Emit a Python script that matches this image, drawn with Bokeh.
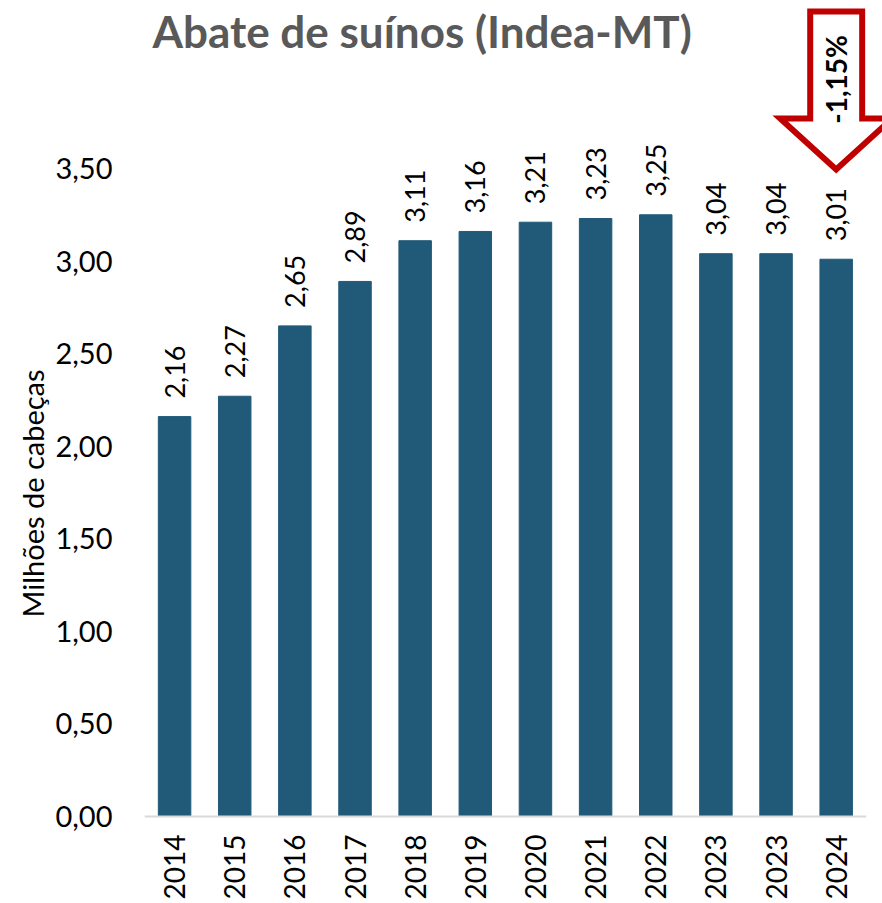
import math
from bokeh.plotting import figure
from bokeh.models import ColumnDataSource, Range1d, FixedTicker, CustomJSTickFormatter, Label, Title
from bokeh.core.properties import value
from bokeh.embed import file_html
from bokeh.resources import INLINE

# ---- data ----
years = ["2014", "2015", "2016", "2017", "2018", "2019", "2020", "2021", "2022", "2023", "2023", "2024"]
values = [2.16, 2.27, 2.65, 2.89, 3.11, 3.16, 3.21, 3.23, 3.25, 3.04, 3.04, 3.01]
y_ticks = [0.0, 0.5, 1.0, 1.5, 2.0, 2.5, 3.0, 3.5]
title_text = "Abate de suínos (Indea-MT)"
y_label = "Milhões de cabeças"
change_text = "-1,15%"

BAR = "#215A78"
FONT = "Lato"

idx = list(range(len(years)))
labels = [f"{v:.2f}".replace(".", ",") for v in values]
src = ColumnDataSource(dict(x=idx, top=values, label=labels, year=years, zero=[0] * len(idx)))

W, H = 882, 903
LEFT = 144
p = figure(width=W, height=H,
           x_range=Range1d(-0.5, 11.77), y_range=Range1d(-0.470, 4.4075),
           x_axis_location=None,
           output_backend="svg", toolbar_location=None,
           min_border_left=LEFT, min_border_right=0, min_border_top=0, min_border_bottom=0)
p.outline_line_color = None
p.xgrid.grid_line_color = None
p.ygrid.grid_line_color = None

p.vbar(x="x", top="top", width=0.54, color=BAR, source=src)
p.segment(x0=[-0.5], y0=[0], x1=[len(idx) - 0.5], y1=[0], line_color="#d9d9d9", line_width=2)

# value labels
p.text(x="x", y="top", text="label", source=src, angle=math.pi / 2,
       text_align="left", text_baseline="middle", y_offset=-18,
       text_font=value(FONT), text_font_size="27px", text_color="black")

# category labels (rotated, below the baseline)
p.text(x="x", y="zero", text="year", source=src, angle=math.pi / 2,
       text_align="right", text_baseline="middle", y_offset=18,
       text_font=value(FONT), text_font_size="28px", text_color="black")

# y axis
p.yaxis.ticker = FixedTicker(ticks=y_ticks)
p.yaxis.formatter = CustomJSTickFormatter(code="return tick.toFixed(2).replace('.', ',');")
p.yaxis.axis_line_color = None
p.yaxis.major_tick_line_color = None
p.yaxis.minor_tick_line_color = None
p.yaxis.major_label_standoff = 26
p.yaxis.major_label_text_font = FONT
p.yaxis.major_label_text_font_size = "29px"
p.yaxis.major_label_text_color = "black"

# y axis title, placed beside the value span of the plot area
p.add_layout(Title(text=y_label, align="left", offset=286, text_font=FONT,
                   text_font_style="normal", text_font_size="29px",
                   text_color="black", standoff=6), "left")

# chart title
p.add_layout(Label(x=4.116, y=4.245, text=title_text, text_align="center",
                   text_baseline="alphabetic", text_font=FONT, text_font_style="bold",
                   text_font_size="44px", text_color="#595959"))

# down arrow with change
cx = idx[-1]
shaft, head = 0.432, 0.931
y_top, y_head, y_tip = 4.348, 3.770, 3.495
p.patch(x=[cx - shaft, cx + shaft, cx + shaft, cx + head, cx, cx - head, cx - shaft],
        y=[y_top, y_top, y_head, y_head, y_tip, y_head, y_head],
        fill_color="white", line_color="#C00000", line_width=6, line_join="miter")
p.add_layout(Label(x=cx, y=3.981, text=change_text, angle=math.pi / 2,
                   text_align="center", text_baseline="middle", text_font=FONT,
                   text_font_style="bold", text_font_size="28px", text_color="black"))

open("out.html", "w").write(file_html(p, INLINE))
